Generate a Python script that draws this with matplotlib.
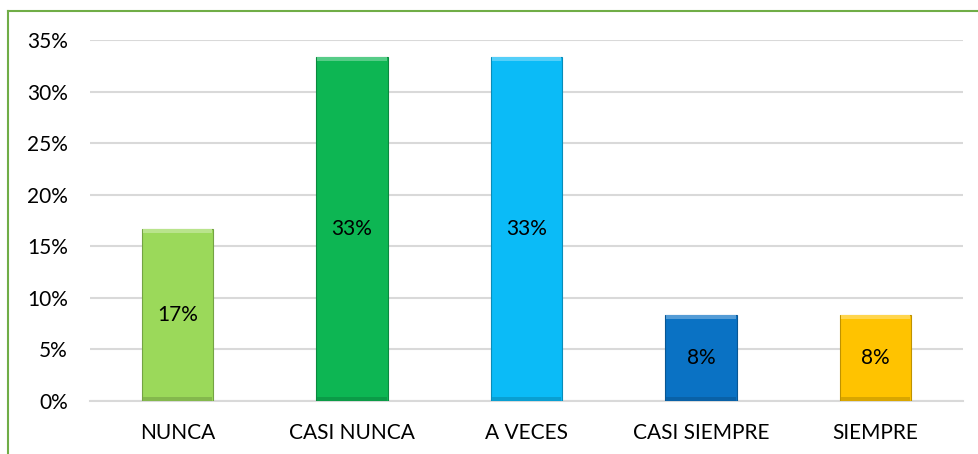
import matplotlib.pyplot as plt
from matplotlib.lines import Line2D
from matplotlib.colors import to_rgb
from matplotlib.ticker import PercentFormatter

categories = ['NUNCA', 'CASI NUNCA', 'A VECES', 'CASI SIEMPRE', 'SIEMPRE']
values = [1 / 6, 1 / 3, 1 / 3, 1 / 12, 1 / 12]
labels = ['17%', '33%', '33%', '8%', '8%']
colors = ['#9BD95A', '#0DB653', '#0BBBF7', '#0A72C4', '#FFC300']

plt.rcParams['font.family'] = ['Lato', 'DejaVu Sans']

fig = plt.figure(figsize=(9.79, 4.54), dpi=100)
ax = fig.add_axes([90 / 979, 1 - 401 / 454, (963 - 90) / 979, (401 - 40) / 454])


def shade(c, f):
    r, g, b = to_rgb(c)
    if f < 1:
        return (r * f, g * f, b * f)
    return (r + (1 - r) * (f - 1), g + (1 - g) * (f - 1), b + (1 - b) * (f - 1))


x = range(len(categories))
w = 0.41
bars = ax.bar(x, values, width=w, color=colors, zorder=3,
              edgecolor=[shade(c, 0.75) for c in colors], linewidth=0.8)

# light top band and darker bottom band for the bevel look
band = 0.004
for i, v in enumerate(values):
    ax.bar(i, band, bottom=v - band, width=w * 0.97, color=shade(colors[i], 1.3), zorder=4, linewidth=0)
    ax.bar(i, band, bottom=0.0003, width=w * 0.97, color=shade(colors[i], 0.85), zorder=4, linewidth=0)
    ax.text(i, v / 2, labels[i], ha='center', va='center', fontsize=15, color='black', zorder=5)

ax.set_xlim(-0.5, len(categories) - 0.5)
ax.set_ylim(0, 0.35)
ax.set_yticks([0, 0.05, 0.10, 0.15, 0.20, 0.25, 0.30, 0.35])
ax.yaxis.set_major_formatter(PercentFormatter(1.0, decimals=0))
ax.set_xticks(list(x))
ax.set_xticklabels(categories)
ax.tick_params(axis='both', length=0, labelsize=15, colors='black')
ax.tick_params(axis='y', pad=16)
ax.tick_params(axis='x', pad=16)

ax.grid(axis='y', color='#D9D9D9', linewidth=1.5, zorder=0)
for s in ['top', 'right', 'left']:
    ax.spines[s].set_visible(False)
ax.spines['bottom'].set_color('#D9D9D9')
ax.spines['bottom'].set_linewidth(1.5)

# green chart border (left and top)
fig.add_artist(Line2D([8.5 / 979, 8.5 / 979], [0, 1 - 11 / 454], color='#70AD47', linewidth=1.5))
fig.add_artist(Line2D([8 / 979, 1], [1 - 11 / 454, 1 - 11 / 454], color='#70AD47', linewidth=1.5))

plt.savefig('out.png', dpi=100)
